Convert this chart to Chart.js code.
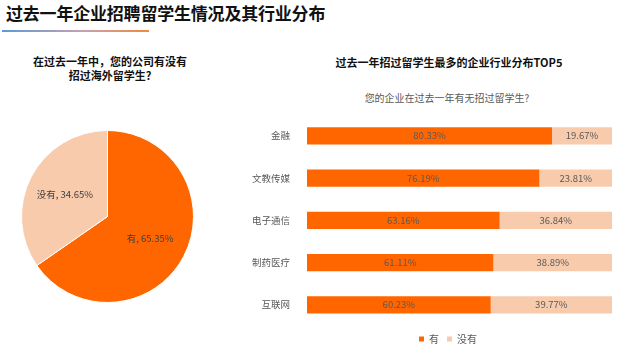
<!DOCTYPE html>
<html>
<head>
<meta charset="utf-8">
<script src="https://cdn.jsdelivr.net/npm/chart.js@4.4.1/dist/chart.umd.min.js"></script>
<style>
    html, body { margin: 0; padding: 0; background: #fff; }
    body { width: 619px; height: 354px; position: relative; overflow: hidden;
           font-family: "Noto Sans CJK SC", "Noto Sans", sans-serif; }
    .mainTitle { position: absolute; left: 6px; top: 0px; font-size: 17px; font-weight: bold;
                 color: #111; line-height: 26px; letter-spacing: -0.2px; }
    .underline { position: absolute; left: 2px; top: 30px; width: 147px; height: 2px;
                 background: linear-gradient(90deg, #5b9bd5, #c9a0b0 55%, #f08a3c); }
    .pieTitle { position: absolute; left: 10px; width: 200px; top: 54px; text-align: center;
                font-size: 11px; font-weight: bold; color: #111; line-height: 14px; }
    .barTitle { position: absolute; left: 300px; width: 298px; top: 54px; text-align: center;
                font-size: 11px; font-weight: bold; color: #111; line-height: 16px; }
    .barSub { position: absolute; left: 300px; width: 294px; top: 90px; text-align: center;
              font-size: 10px; color: #595959; line-height: 16px; }
    #pieWrap { position: absolute; left: 21px; top: 130px; width: 173px; height: 173px; }
    #barWrap { position: absolute; left: 240px; top: 100px; width: 379px; height: 254px; }
</style>
</head>
<body>
<div class="mainTitle">过去一年企业招聘留学生情况及其行业分布</div>
<div class="underline"></div>
<div class="pieTitle">在过去一年中，您的公司有没有<br>招过海外留学生?</div>
<div class="barTitle">过去一年招过留学生最多的企业行业分布TOP5</div>
<div class="barSub">您的企业在过去一年有无招过留学生?</div>
<div id="pieWrap"><canvas id="pieChart" width="173" height="173"></canvas></div>
<div id="barWrap"><canvas id="barChart" width="379" height="254"></canvas></div>

<script>
const pieLabels = ["有", "没有"];
const pieValues = [65.35, 34.65];

const industries = ["金融", "文教传媒", "电子通信", "制药医疗", "互联网"];
const hasHired = [80.33, 76.19, 63.16, 61.11, 60.23];
const notHired = [19.67, 23.81, 36.84, 38.89, 39.77];

const ORANGE = "#ff6600";
const PEACH = "#f8cbad";

// labels on the pie slices: "有, 65.35%"
const pieLabelPlugin = {
    id: "pieLabels",
    afterDatasetsDraw(chart) {
        const ctx = chart.ctx;
        const meta = chart.getDatasetMeta(0);
        ctx.save();
        ctx.font = "9.5px 'Noto Sans CJK SC'";
        ctx.fillStyle = "#404040";
        ctx.textAlign = "center";
        ctx.textBaseline = "middle";
        meta.data.forEach((arc, i) => {
            const mid = (arc.startAngle + arc.endAngle) / 2;
            const r = arc.outerRadius * 0.56;
            const x = arc.x + Math.cos(mid) * r;
            const y = arc.y + Math.sin(mid) * r;
            ctx.fillText(pieLabels[i] + ", " + pieValues[i].toFixed(2) + "%", x, y);
        });
        ctx.restore();
    }
};

// percent labels centred inside every bar segment
const barLabelPlugin = {
    id: "barLabels",
    afterDatasetsDraw(chart) {
        const ctx = chart.ctx;
        ctx.save();
        ctx.font = "9.5px 'Noto Sans CJK SC'";
        ctx.fillStyle = "#595959";
        ctx.textAlign = "center";
        ctx.textBaseline = "middle";
        chart.data.datasets.forEach((ds, di) => {
            const meta = chart.getDatasetMeta(di);
            meta.data.forEach((bar, i) => {
                const x = (bar.x + bar.base) / 2;
                ctx.fillText(ds.data[i].toFixed(2) + "%", x, bar.y);
            });
        });
        ctx.restore();
    }
};

// the narrow y axis would clip its labels, so widen its box to the left edge
const widenAxisPlugin = {
    id: "widenAxis",
    afterLayout(chart) {
        const y = chart.scales.y;
        y.left = 0;
        y.width = y.right - y.left;
    }
};

new Chart(document.getElementById("pieChart"), {
    type: "pie",
    data: {
        labels: pieLabels,
        datasets: [{
            data: pieValues,
            backgroundColor: [ORANGE, PEACH],
            borderColor: "#ffffff",
            borderWidth: 1,
            hoverOffset: 0
        }]
    },
    options: {
        responsive: false,
        animation: false,
        plugins: { legend: { display: false }, tooltip: { enabled: false } }
    },
    plugins: [pieLabelPlugin]
});

new Chart(document.getElementById("barChart"), {
    type: "bar",
    data: {
        labels: industries,
        datasets: [
            { label: "有", data: hasHired, backgroundColor: ORANGE, borderWidth: 0,
              barPercentage: 0.41, categoryPercentage: 1 },
            { label: "没有", data: notHired, backgroundColor: PEACH, borderWidth: 0,
              barPercentage: 0.41, categoryPercentage: 1 }
        ]
    },
    options: {
        indexAxis: "y",
        responsive: false,
        animation: false,
        layout: { padding: { left: 44, right: 7, top: 12.5, bottom: 0 } },
        scales: {
            x: { stacked: true, min: 0, max: 100, display: false },
            y: {
                stacked: true,
                grid: { display: false },
                border: { display: false },
                ticks: { color: "#595959", font: { size: 9.5, family: "Noto Sans CJK SC" }, padding: 9 },
                afterFit(scale) { scale.width = 23; }
            }
        },
        plugins: {
            tooltip: { enabled: false },
            legend: {
                position: "bottom",
                labels: {
                    boxWidth: 5, boxHeight: 5, padding: 8,
                    color: "#595959",
                    font: { size: 10, family: "Noto Sans CJK SC" }
                }
            }
        }
    },
    plugins: [barLabelPlugin, widenAxisPlugin]
});
</script>
</body>
</html>
